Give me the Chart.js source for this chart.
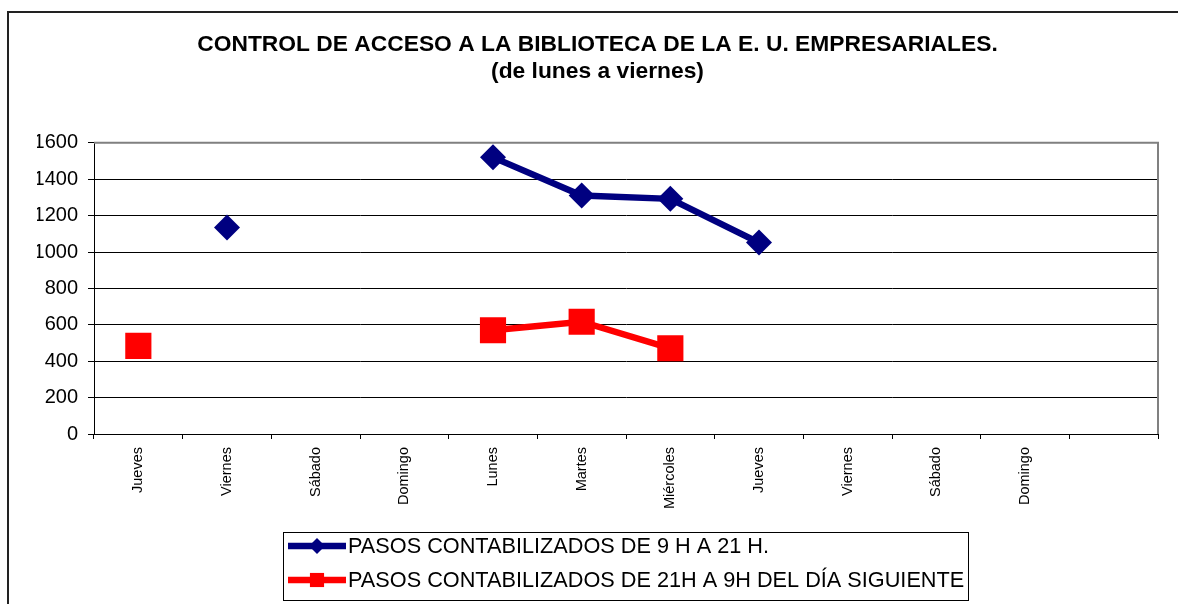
<!DOCTYPE html>
<html>
<head>
<meta charset="utf-8">
<script src="https://cdn.jsdelivr.net/npm/chart.js@4"></script>
<style>
  html, body { margin: 0; padding: 0; background: #fff; }
  #wrap { width: 1178px; height: 604px; }
</style>
</head>
<body>
<div id="wrap"><canvas id="myChart"></canvas></div>
<script>
// Chart data
const categories = ['Jueves', 'Viernes', 'Sábado', 'Domingo', 'Lunes', 'Martes', 'Miércoles', 'Jueves', 'Viernes', 'Sábado', 'Domingo', ''];
const pasosDia = [null, 1135, null, null, 1520, 1310, 1292, 1052, null, null, null, null];
const pasosNoche = [484, null, null, null, 570, 617, 471, null, null, null, null, null];
const yTicks = [0, 200, 400, 600, 800, 1000, 1200, 1400, 1600];

const titleLines = ['CONTROL DE ACCESO A LA BIBLIOTECA DE LA E. U. EMPRESARIALES.', '(de lunes a viernes)'];
const seriesNames = ['PASOS CONTABILIZADOS DE 9 H A 21 H.', 'PASOS CONTABILIZADOS DE 21H A 9H DEL DÍA SIGUIENTE'];

const FONT = 'Arial, "Liberation Sans", sans-serif';
const PAD_LEFT = 37;

// Frame, plot border and legend box drawn by hand like the Excel sheet
const excelLook = {
    id: 'excelLook',
    beforeDraw(chart) {
        const ctx = chart.ctx;
        ctx.save();
        ctx.fillStyle = '#fff';
        ctx.fillRect(0, 0, chart.width, chart.height);
        ctx.strokeStyle = '#222';
        ctx.lineWidth = 2;
        ctx.strokeRect(8, 12, chart.width + 20, chart.height + 20);
        ctx.restore();
    },
    beforeDatasetsDraw(chart) {
        const a = chart.chartArea;
        const ctx = chart.ctx;
        ctx.save();
        ctx.strokeStyle = '#808080';
        ctx.lineWidth = 2;
        ctx.beginPath();
        ctx.moveTo(a.left, a.top);
        ctx.lineTo(a.right, a.top);
        ctx.lineTo(a.right, a.bottom);
        ctx.stroke();
        ctx.restore();
    },
    afterDraw(chart) {
        const ctx = chart.ctx;
        ctx.save();
        ctx.strokeStyle = '#000';
        ctx.lineWidth = 1;
        ctx.strokeRect(283.5, 532.5, 685, 68);
        const rows = [546, 580];
        chart.data.datasets.forEach((ds, i) => {
            const y = rows[i];
            ctx.strokeStyle = ds.borderColor;
            ctx.lineWidth = ds.borderWidth;
            ctx.beginPath();
            ctx.moveTo(288, y);
            ctx.lineTo(346, y);
            ctx.stroke();
            ctx.fillStyle = ds.backgroundColor;
            Chart.helpers.drawPoint(ctx, {
                pointStyle: ds.pointStyle,
                radius: ds.legendRadius,
                borderWidth: 0
            }, 317, y);
            ctx.fillStyle = '#000';
            ctx.font = '21.7px ' + FONT;
            ctx.textBaseline = 'middle';
            ctx.textAlign = 'left';
            ctx.fillText(ds.label, 348, y + 1);
        });
        ctx.restore();
    }
};

function renderChart() {
    const ctx = document.getElementById('myChart').getContext('2d');
    const config = {
        type: 'line',
        data: {
            labels: categories,
            datasets: [
                {
                    label: seriesNames[0],
                    data: pasosDia,
                    borderColor: '#000080',
                    backgroundColor: '#000080',
                    borderWidth: 6.5,
                    pointStyle: 'rectRot',
                    pointRadius: 13,
                    pointBorderWidth: 0,
                    legendRadius: 8,
                    tension: 0,
                    spanGaps: false
                },
                {
                    label: seriesNames[1],
                    data: pasosNoche,
                    borderColor: '#FF0000',
                    backgroundColor: '#FF0000',
                    borderWidth: 6.5,
                    pointStyle: 'rect',
                    pointRadius: 18.5,
                    pointBorderWidth: 0,
                    legendRadius: 10,
                    tension: 0,
                    spanGaps: false
                }
            ]
        },
        options: {
            responsive: true,
            maintainAspectRatio: false,
            animation: false,
            devicePixelRatio: 1,
            layout: {
                padding: { left: PAD_LEFT, right: 20, top: 0, bottom: 0 }
            },
            plugins: {
                legend: { display: false },
                tooltip: { enabled: false },
                title: {
                    display: true,
                    text: titleLines,
                    color: '#000',
                    font: { family: FONT, size: 22.8, weight: 'bold', lineHeight: 1.18 },
                    padding: { top: 31, bottom: 58 }
                }
            },
            scales: {
                x: {
                    offset: true,
                    grid: {
                        offset: true,
                        drawOnChartArea: false,
                        drawTicks: true,
                        tickLength: 5,
                        color: '#000'
                    },
                    border: { color: '#000', width: 1 },
                    ticks: {
                        autoSkip: false,
                        minRotation: 90,
                        maxRotation: 90,
                        padding: 8,
                        color: '#000',
                        font: { family: FONT, size: 14.5 }
                    },
                    afterFit(scale) { scale.height = 604 - 434; }
                },
                y: {
                    min: 0,
                    max: 1600,
                    afterBuildTicks(scale) { scale.ticks = yTicks.map(v => ({ value: v })); },
                    grid: {
                        color: '#000',
                        lineWidth: 1,
                        tickLength: 6
                    },
                    border: { color: '#000', width: 1 },
                    ticks: {
                        padding: 10,
                        color: '#000',
                        font: { family: FONT, size: 20 },
                        callback: v => String(v)
                    },
                    afterFit(scale) { scale.width = 94 - PAD_LEFT; }
                }
            }
        },
        plugins: [excelLook]
    };
    new Chart(ctx, config);
}

renderChart();
</script>
</body>
</html>
